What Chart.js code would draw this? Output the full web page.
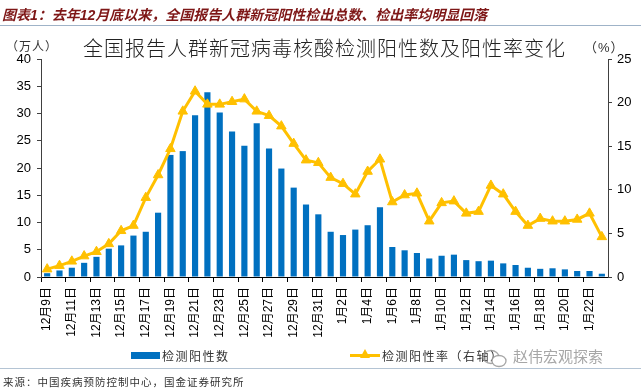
<!DOCTYPE html>
<html>
<head>
<meta charset="utf-8">
<script src="https://cdn.jsdelivr.net/npm/chart.js@4"></script>
<style>
  html, body { margin: 0; padding: 0; background: #fff; }
  #wrap { position: relative; width: 641px; height: 390px; overflow: hidden; font-family: "Liberation Sans", Arial, "Noto Sans CJK SC", sans-serif; }
  #chart { position: absolute; left: 0; top: 0; }
  .txt { position: absolute; white-space: nowrap; }
  #header { left: 2px; top: 4px; font-size: 14px; font-weight: bold; font-style: italic; color: #7e1717; }
  #hline { position: absolute; left: 0; top: 25px; width: 641px; height: 1px; background: #9fb3c8; }
  #title { left: 83px; top: 33px; font-size: 20px; font-weight: 300; color: #222; letter-spacing: 1px; font-family: "Noto Sans CJK SC", sans-serif; }
  #unitL { left: 6px; top: 37px; font-size: 12px; color: #333; letter-spacing: 1px; }
  #unitR { left: 584px; top: 37px; font-size: 13px; color: #333; letter-spacing: 1px; }
  #legBar { position: absolute; left: 131px; top: 352px; width: 29px; height: 7px; background: #0070C0; }
  #legBarTxt { left: 162px; top: 347px; font-size: 12px; color: #333; letter-spacing: 1.5px; }
  #legLine { position: absolute; left: 350px; top: 354px; width: 30px; height: 3px; background: #FFC000; }
  #legTri { position: absolute; left: 360px; top: 349px; width: 0; height: 0; border-left: 5px solid transparent; border-right: 5px solid transparent; border-bottom: 9px solid #FFC000; }
  #legLineTxt { left: 382px; top: 347px; font-size: 12px; color: #333; letter-spacing: 1.5px; }
  #wm { left: 513px; top: 345px; font-size: 15px; color: rgba(150,150,150,0.85); font-family: "Noto Sans CJK SC", sans-serif; }
  #wmIcon { position: absolute; left: 481px; top: 348px; }
  #bline { position: absolute; left: 0; top: 368px; width: 641px; height: 1px; background: #b4c4d4; }
  #source { left: 3px; top: 374px; font-size: 10.5px; color: #333; letter-spacing: 1px; }
</style>
</head>
<body>
<div id="wrap">
  <canvas id="chart" width="641" height="390"></canvas>
  <div class="txt" id="header">图表1：去年12月底以来，全国报告人群新冠阳性检出总数、检出率均明显回落</div>
  <div id="hline"></div>
  <div class="txt" id="unitL">（万人）</div>
  <div class="txt" id="title">全国报告人群新冠病毒核酸检测阳性数及阳性率变化</div>
  <div class="txt" id="unitR">（%）</div>
  <div id="legBar"></div>
  <div class="txt" id="legBarTxt">检测阳性数</div>
  <div id="legLine"></div>
  <div id="legTri"></div>
  <div class="txt" id="legLineTxt">检测阳性率（右轴）</div>
  <svg id="wmIcon" width="28" height="22" viewBox="0 0 28 22">
    <ellipse cx="10" cy="9" rx="8" ry="6.5" fill="none" stroke="rgba(150,150,150,0.85)" stroke-width="1.3"/>
    <ellipse cx="18" cy="13" rx="7" ry="5.5" fill="#fff" stroke="rgba(150,150,150,0.85)" stroke-width="1.3"/>
  </svg>
  <div class="txt" id="wm">赵伟宏观探索</div>
  <div id="bline"></div>
  <div class="txt" id="source">来源：中国疾病预防控制中心，国金证券研究所</div>
</div>
<script>
var dateLabels = [
    '12月9日', '12月10日', '12月11日', '12月12日', '12月13日', '12月14日', '12月15日', '12月16日',
    '12月17日', '12月18日', '12月19日', '12月20日', '12月21日', '12月22日', '12月23日', '12月24日',
    '12月25日', '12月26日', '12月27日', '12月28日', '12月29日', '12月30日', '12月31日',
    '1月1日', '1月2日', '1月3日', '1月4日', '1月5日', '1月6日', '1月7日', '1月8日',
    '1月9日', '1月10日', '1月11日', '1月12日', '1月13日', '1月14日', '1月15日', '1月16日',
    '1月17日', '1月18日', '1月19日', '1月20日', '1月21日', '1月22日', '1月23日'
];
// 检测阳性数（万人）
var positiveCount = [
    0.7, 1.2, 1.7, 2.6, 3.7, 5.2, 5.8, 7.6, 8.3, 11.8,
    22.4, 23.1, 29.7, 33.9, 30.2, 26.7, 24.1, 28.2, 23.6, 19.9,
    16.4, 13.3, 11.5, 8.3, 7.7, 8.7, 9.5, 12.8, 5.5, 4.9,
    4.4, 3.4, 3.9, 4.1, 3.1, 2.9, 3.0, 2.5, 2.2, 1.7,
    1.5, 1.6, 1.4, 1.1, 1.1, 0.6
];
// 检测阳性率（%，右轴）
var positiveRate = [
    0.9, 1.3, 1.8, 2.4, 2.9, 3.8, 5.3, 5.9, 9.1, 11.7,
    14.7, 19.0, 21.3, 19.8, 19.8, 20.1, 20.4, 19.0, 18.5, 17.3,
    15.3, 13.4, 13.1, 11.4, 10.7, 9.5, 12.1, 13.5, 8.6, 9.4,
    9.6, 6.4, 8.5, 8.7, 7.3, 7.5, 10.5, 9.5, 7.5, 5.9,
    6.7, 6.4, 6.4, 6.6, 7.3, 4.6
];
var leftTicks = { min: 0, max: 40, step: 5 };
var rightTicks = { min: 0, max: 25, step: 5 };

var axisColor = '#404040';
var fontFamily = '"Liberation Sans", Arial, "Noto Sans CJK SC", sans-serif';

var ctx = document.getElementById('chart').getContext('2d');
new Chart(ctx, {
    data: {
        labels: dateLabels,
        datasets: [
            {
                type: 'line',
                label: '检测阳性率（右轴）',
                data: positiveRate,
                yAxisID: 'y1',
                order: 0,
                borderColor: '#FFC000',
                backgroundColor: '#FFC000',
                borderWidth: 3,
                pointStyle: 'triangle',
                pointRadius: 5.5,
                pointBorderWidth: 1,
                pointBackgroundColor: '#FFC000',
                pointBorderColor: '#FFC000',
                tension: 0
            },
            {
                type: 'bar',
                label: '检测阳性数',
                data: positiveCount,
                yAxisID: 'y',
                order: 1,
                backgroundColor: '#0070C0',
                categoryPercentage: 1,
                barPercentage: 0.5
            }
        ]
    },
    options: {
        responsive: false,
        animation: false,
        devicePixelRatio: 1,
        layout: { padding: { top: 59, left: 0, right: 0, bottom: 0 } },
        plugins: { legend: { display: false }, tooltip: { enabled: false } },
        scales: {
            x: {
                afterFit: function (scale) { scale.height = 113; },
                border: { color: '#000', width: 1 },
                grid: {
                    drawOnChartArea: false,
                    drawTicks: true,
                    tickLength: 5,
                    offset: true,
                    tickColor: function (c) { return c.index % 2 === 0 ? '#000' : 'rgba(0,0,0,0)'; }
                },
                ticks: {
                    autoSkip: false,
                    minRotation: 90,
                    maxRotation: 90,
                    padding: 5,
                    color: '#000',
                    font: { size: 12, family: fontFamily },
                    callback: function (v, i) { return i % 2 === 0 ? dateLabels[i] : ''; }
                }
            },
            y: {
                position: 'left',
                min: leftTicks.min,
                max: leftTicks.max,
                afterFit: function (scale) { scale.width = 41; },
                border: { color: axisColor, width: 1 },
                grid: { drawOnChartArea: false, drawTicks: true, tickLength: 4, tickColor: axisColor },
                ticks: { stepSize: leftTicks.step, padding: 6, color: '#000', font: { size: 13, family: fontFamily } }
            },
            y1: {
                position: 'right',
                min: rightTicks.min,
                max: rightTicks.max,
                afterFit: function (scale) { scale.width = 33; },
                border: { color: axisColor, width: 1 },
                grid: { drawOnChartArea: false, drawTicks: true, tickLength: 4, tickColor: axisColor },
                ticks: { stepSize: rightTicks.step, padding: 5, color: '#000', font: { size: 13, family: fontFamily } }
            }
        }
    }
});
</script>
</body>
</html>
